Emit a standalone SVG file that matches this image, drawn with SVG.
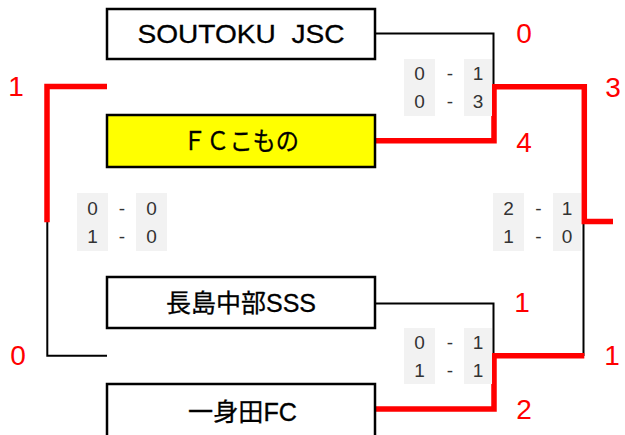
<svg xmlns="http://www.w3.org/2000/svg" width="625" height="435" viewBox="0 0 625 435">
<style>
.box{fill:#fff;stroke:#000;stroke-width:2.5}
.win{fill:#ffff00}
.team{font-family:"Liberation Sans","Noto Sans CJK JP",sans-serif;font-size:25px;fill:#000;stroke:#000;stroke-width:0.3;text-anchor:middle}
.lose{fill:none;stroke:#000;stroke-width:2}
.wl{fill:none;stroke:#ff0000;stroke-width:5.5}
.sc{fill:#f2f2f2}
.st{font-family:"Liberation Sans","Noto Sans CJK JP",sans-serif;font-size:19px;fill:#333;text-anchor:middle}
.rn{font-family:"Liberation Sans",sans-serif;font-size:28px;fill:#ff0000;text-anchor:middle}
</style>
<rect width="625" height="435" fill="#fff"/>
<g id="connectors">
<polyline class="lose" points="375,33.5 493.5,33.5 493.5,87"/>
<polyline class="lose" points="583.5,222 583.5,356"/>
<polyline class="lose" points="375,303.5 493.5,303.5 493.5,356"/>
<polyline class="lose" points="47.3,222 47.3,355.7 107,355.7"/>
<polyline class="wl" points="375,140.7 494,140.7 494,86.7 584.3,86.7 584.3,221.5 613,221.5"/>
<polyline class="wl" points="375,409 494,409 494,355.8 584.3,355.8"/>
<polyline class="wl" points="107,86.5 47,86.5 47,222.3"/>
</g>
<g id="team-soutoku">
<rect class="box" x="107" y="9" width="268" height="50"/>
<text class="team" x="241" y="43" textLength="207" lengthAdjust="spacingAndGlyphs" xml:space="preserve">SOUTOKU  JSC</text>
</g>
<g id="team-fckomono">
<rect class="box win" x="107" y="115" width="268" height="52"/>
<text class="team" x="241" y="150" textLength="116" lengthAdjust="spacingAndGlyphs">ＦＣこもの</text>
</g>
<g id="team-nagashima">
<rect class="box" x="107" y="277" width="268" height="51"/>
<text class="team" x="241" y="312" textLength="150" lengthAdjust="spacingAndGlyphs">長島中部SSS</text>
</g>
<g id="team-isshinden">
<rect class="box" x="107" y="384" width="268" height="60"/>
<text class="team" x="242.5" y="421" textLength="109" lengthAdjust="spacingAndGlyphs">一身田FC</text>
</g>
<g id="score-top">
<rect class="sc" x="404" y="59" width="31" height="57"/>
<rect class="sc" x="464" y="59" width="28" height="57"/>
<text class="st" x="419.5" y="80">0</text><text class="st" x="450" y="80">-</text><text class="st" x="478" y="80">1</text>
<text class="st" x="419.5" y="108">0</text><text class="st" x="450" y="108">-</text><text class="st" x="478" y="108">3</text>
</g>
<g id="score-left">
<rect class="sc" x="77" y="193" width="31" height="58"/>
<rect class="sc" x="136" y="193" width="31" height="58"/>
<text class="st" x="92.5" y="215">0</text><text class="st" x="122" y="215">-</text><text class="st" x="151.5" y="215">0</text>
<text class="st" x="92.5" y="243">1</text><text class="st" x="122" y="243">-</text><text class="st" x="151.5" y="243">0</text>
</g>
<g id="score-right">
<rect class="sc" x="493" y="193" width="31" height="58"/>
<rect class="sc" x="553" y="193" width="28" height="58"/>
<text class="st" x="508.5" y="215">2</text><text class="st" x="538.5" y="215">-</text><text class="st" x="567" y="215">1</text>
<text class="st" x="508.5" y="243">1</text><text class="st" x="538.5" y="243">-</text><text class="st" x="567" y="243">0</text>
</g>
<g id="score-bottom">
<rect class="sc" x="404" y="328" width="31" height="56"/>
<rect class="sc" x="464" y="328" width="28" height="56"/>
<text class="st" x="419.5" y="349">0</text><text class="st" x="450" y="349">-</text><text class="st" x="478" y="349">1</text>
<text class="st" x="419.5" y="377">1</text><text class="st" x="450" y="377">-</text><text class="st" x="478" y="377">1</text>
</g>
<g id="goals">
<text class="rn" x="524" y="43">0</text>
<text class="rn" x="613" y="97">3</text>
<text class="rn" x="524" y="152">4</text>
<text class="rn" x="16" y="96">1</text>
<text class="rn" x="18" y="365">0</text>
<text class="rn" x="522" y="312">1</text>
<text class="rn" x="612" y="365">1</text>
<text class="rn" x="524" y="419">2</text>
</g>
</svg>
